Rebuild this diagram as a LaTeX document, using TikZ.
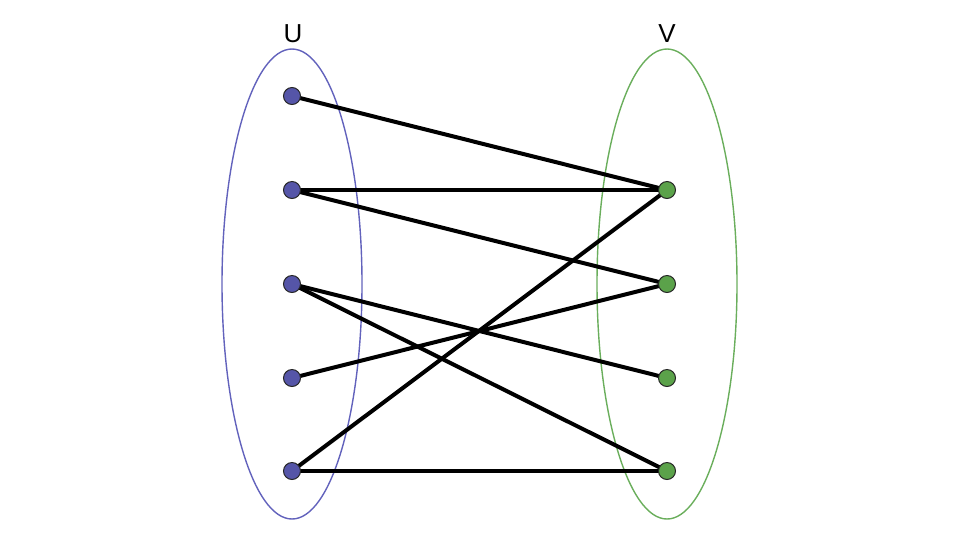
\documentclass[tikz,border=0pt]{standalone}
\usepackage{fontspec}
\setmainfont{Liberation Sans}
\definecolor{ublue}{HTML}{5555A8}
\definecolor{uell}{HTML}{6262BC}
\definecolor{vgreen}{HTML}{5BA24A}
\definecolor{vell}{HTML}{6AAE5C}
\tikzset{
  unode/.style={circle,draw=black!85,line width=1pt,fill=ublue,minimum size=17pt,inner sep=0pt},
  vnode/.style={circle,draw=black!85,line width=1pt,fill=vgreen,minimum size=17pt,inner sep=0pt},
  edge/.style={line width=4pt,black},
  lbl/.style={font=\fontsize{26}{30}\selectfont,inner sep=0pt}
}
\begin{document}
\begin{tikzpicture}[x=1pt,y=-1pt]
\useasboundingbox (0,0) rectangle (969,542);
\draw[uell,line width=1.4pt] (292,284) ellipse [x radius=70, y radius=235];
\draw[vell,line width=1.4pt] (667,284) ellipse [x radius=70, y radius=235];
\node[lbl] (lu) at (293,34) {U};
\node[lbl] (lv) at (667,34) {V};
\coordinate (u1) at (292,96);
\coordinate (u2) at (292,190);
\coordinate (u3) at (292,284);
\coordinate (u4) at (292,378);
\coordinate (u5) at (292,471);
\coordinate (v1) at (667,190);
\coordinate (v2) at (667,284);
\coordinate (v3) at (667,378);
\coordinate (v4) at (667,471);
\draw[edge] (u1) -- (v1);
\draw[edge] (u2) -- (v1);
\draw[edge] (u2) -- (v2);
\draw[edge] (u3) -- (v3);
\draw[edge] (u3) -- (v4);
\draw[edge] (u4) -- (v2);
\draw[edge] (u5) -- (v1);
\draw[edge] (u5) -- (v4);
\foreach \n in {u1,u2,u3,u4,u5} \node[unode] (n\n) at (\n) {};
\foreach \n in {v1,v2,v3,v4} \node[vnode] (n\n) at (\n) {};
\end{tikzpicture}
\end{document}
